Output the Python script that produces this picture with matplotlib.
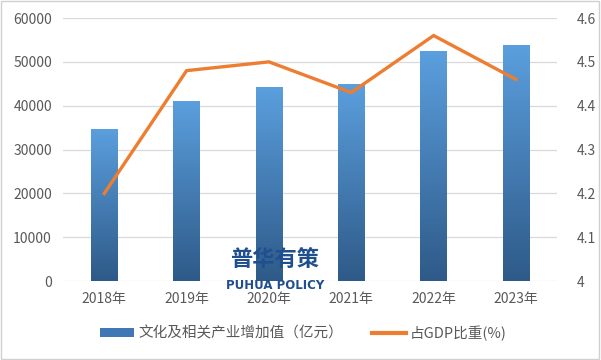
import matplotlib
matplotlib.use('Agg')
import matplotlib.pyplot as plt
import numpy as np
from matplotlib.colors import LinearSegmentedColormap
from matplotlib.lines import Line2D
from matplotlib.patches import Patch, Rectangle

plt.rcParams['font.family'] = ['Noto Sans CJK SC', 'DejaVu Sans']

years = ['2018年', '2019年', '2020年', '2021年', '2022年', '2023年']
value_added = [34722, 41171, 44363, 44945, 52385, 53782]
gdp_share = [4.20, 4.48, 4.50, 4.43, 4.56, 4.46]

GRAY = '#595959'
GRID = '#D9D9D9'
ORANGE = '#ED7D31'
grad = LinearSegmentedColormap.from_list('bar', ['#2E5A88', '#5B9FDE'])

fig = plt.figure(figsize=(6.01, 3.6), dpi=100)
ax = fig.add_axes([0.105, 0.219, 0.822, 0.731])
x = np.arange(len(years))
bars = ax.bar(x, value_added, width=0.32, color='none', zorder=2)
g = np.linspace(0, 1, 256).reshape(-1, 1)
for b in bars:
    im = ax.imshow(g, cmap=grad, aspect='auto', origin='lower',
                   extent=[b.get_x(), b.get_x() + b.get_width(), 0, b.get_height()],
                   zorder=2)
    im.set_clip_path(b)
ax.set_xlim(-0.5, len(years) - 0.5)
ax.set_ylim(0, 60000)
ax.set_yticks(range(0, 60001, 10000))
ax.grid(axis='y', color=GRID, lw=0.9, zorder=0)
ax.set_axisbelow(True)
for s in ax.spines.values():
    s.set_visible(False)
ax.tick_params(length=0, colors=GRAY, labelsize=10, pad=8)
ax.set_xticks(x)
ax.set_xticklabels(years)

ax2 = ax.twinx()
ax2.plot(x, gdp_share, color=ORANGE, lw=2.4, zorder=3, solid_joinstyle='miter')
ax2.set_ylim(4, 4.6)
ax2.set_yticks([4, 4.1, 4.2, 4.3, 4.4, 4.5, 4.6])
ax2.set_yticklabels(['4', '4.1', '4.2', '4.3', '4.4', '4.5', '4.6'])
for s in ax2.spines.values():
    s.set_visible(False)
ax2.tick_params(length=0, colors=GRAY, labelsize=10, pad=14)

# watermark
fig.text(0.457, 0.278, '普华有策', fontsize=16, fontweight='bold', color='#1F4F8E',
         ha='center', va='center')
fig.text(0.457, 0.207, 'PUHUA POLICY', fontsize=8.5, fontweight='bold', color='#1F4F8E',
         ha='center', va='center', family='DejaVu Sans')

handles = [Patch(facecolor='#3F78B5'), Line2D([0], [0], color=ORANGE, lw=3)]
fig.legend(handles, ['文化及相关产业增加值（亿元）', '占GDP比重(%)'], loc='center',
           bbox_to_anchor=(0.505, 0.075), ncol=2, frameon=False, fontsize=10.5,
           labelcolor=GRAY, handlelength=2.3, handleheight=0.6, columnspacing=2.0,
           handletextpad=0.3)

fig.add_artist(Rectangle((0.002, 0.003), 0.995, 0.993, transform=fig.transFigure,
                         fill=False, edgecolor='#D0D0D0', lw=1))
fig.savefig('out.png', dpi=100)
